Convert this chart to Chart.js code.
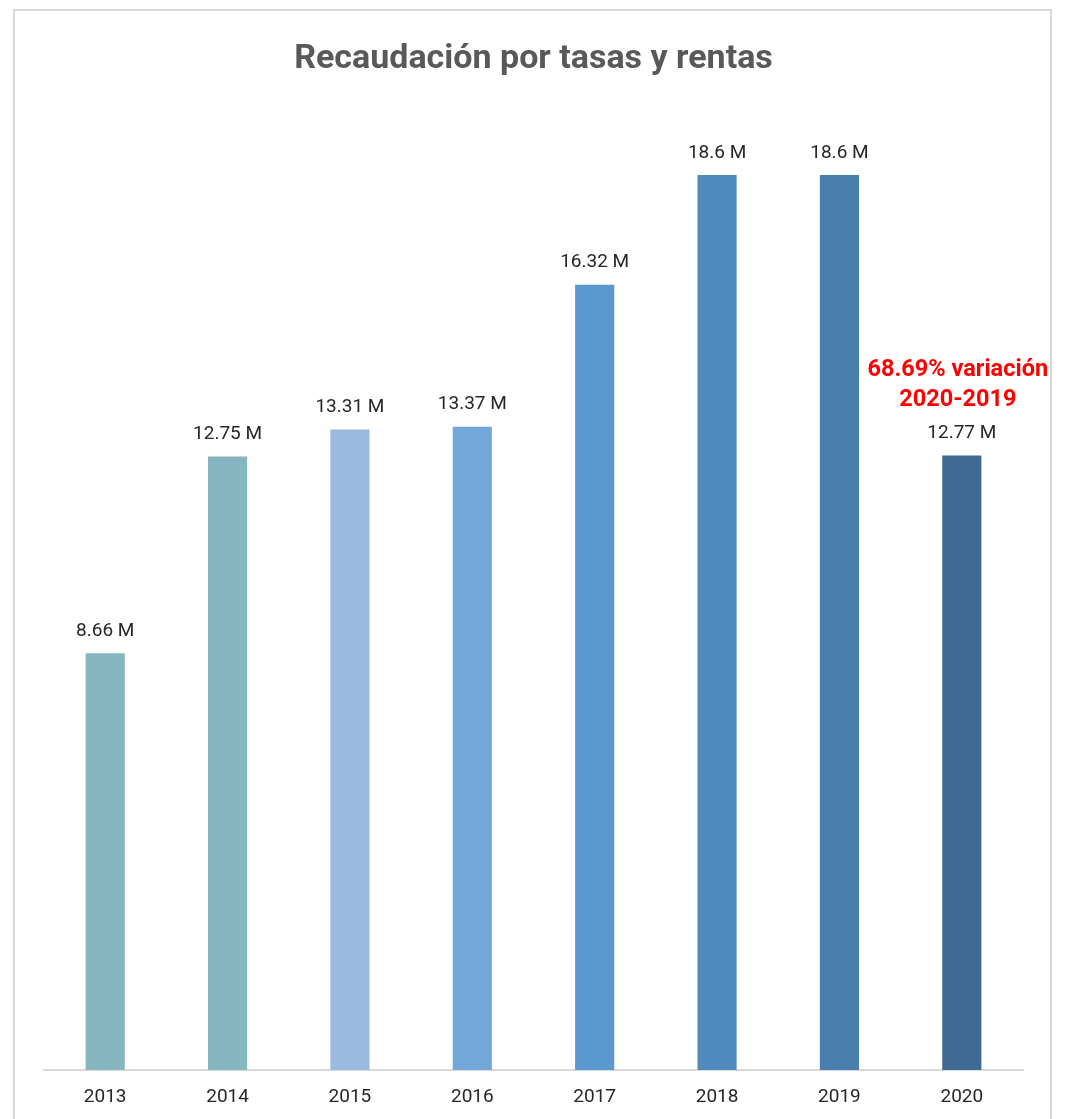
<!DOCTYPE html>
<html>
<head>
<meta charset="utf-8">
<script src="https://cdn.jsdelivr.net/npm/chart.js@4.4.1/dist/chart.umd.min.js"></script>
<style>
  html, body { margin: 0; padding: 0; background: #ffffff; }
  #wrap { position: relative; width: 1069px; height: 1119px; }
</style>
</head>
<body>
<div id="wrap"><canvas id="c" width="1069" height="1119"></canvas></div>
<script>
const categories = ['2013', '2014', '2015', '2016', '2017', '2018', '2019', '2020'];
const values = [8.66, 12.75, 13.31, 13.37, 16.32, 18.6, 18.6, 12.77];
const barColors = ['#86b6c0', '#86b6c0', '#9bbae0', '#74a7d9', '#5b98cd', '#518bbe', '#4a7eac', '#3f6a94'];
const titleText = 'Recaudación por tasas y rentas';
const noteLines = ['68.69% variación', '2020-2019'];
const noteIndex = 7;

const frame = {
  id: 'frame',
  beforeDraw(chart) {
    const ctx = chart.ctx;
    ctx.save();
    ctx.fillStyle = '#ffffff';
    ctx.fillRect(0, 0, chart.width, chart.height);
    ctx.strokeStyle = '#d9d9d9';
    ctx.lineWidth = 2;
    ctx.strokeRect(14, 10, 1037, 1130);
    ctx.restore();
  }
};

const valueLabels = {
  id: 'valueLabels',
  afterDatasetsDraw(chart) {
    const ctx = chart.ctx;
    const meta = chart.getDatasetMeta(0);
    ctx.save();
    ctx.textAlign = 'center';
    ctx.textBaseline = 'middle';
    meta.data.forEach((bar, i) => {
      ctx.fillStyle = '#262626';
      ctx.font = '19px Roboto, "Open Sans", sans-serif';
      ctx.fillText(values[i] + ' M', bar.x, bar.y - 22);
      if (i === noteIndex) {
        ctx.fillStyle = '#ff0000';
        ctx.font = 'bold 23.5px Roboto, "Open Sans", sans-serif';
        ctx.fillText(noteLines[0], bar.x - 4, bar.y - 85);
        ctx.fillText(noteLines[1], bar.x - 4, bar.y - 55);
      }
    });
    ctx.restore();
  }
};

new Chart(document.getElementById('c'), {
  type: 'bar',
  data: {
    labels: categories,
    datasets: [{
      data: values,
      backgroundColor: barColors,
      borderWidth: 0,
      categoryPercentage: 1.0,
      barPercentage: 0.32
    }]
  },
  options: {
    responsive: false,
    animation: false,
    events: [],
    layout: { padding: { left: 44, right: 46, top: 0, bottom: 0 } },
    plugins: {
      legend: { display: false },
      tooltip: { enabled: false },
      title: {
        display: true,
        text: titleText,
        color: '#595959',
        font: { family: 'Roboto, "Open Sans", sans-serif', size: 34, weight: 'bold', lineHeight: 1.2 },
        padding: { top: 38.6, bottom: 28.2 }
      }
    },
    scales: {
      x: {
        grid: { display: true, color: 'rgba(0,0,0,0)', drawTicks: false },
        border: { display: true, color: '#d9d9d9', width: 2 },
        ticks: {
          color: '#262626',
          padding: 16,
          font: { family: 'Roboto, "Open Sans", sans-serif', size: 19 }
        },
        afterFit(scale) { scale.height = 49; }
      },
      y: {
        display: false,
        min: 0,
        max: 20
      }
    }
  },
  plugins: [frame, valueLabels]
});
</script>
</body>
</html>
